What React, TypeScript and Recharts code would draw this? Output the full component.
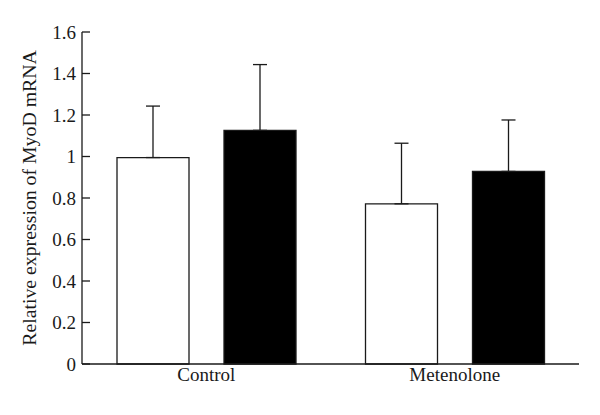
import React from 'react';
import { BarChart, Bar, XAxis, YAxis, ErrorBar } from 'recharts';

const categories = ['Control', 'Metenolone'];
const openMeans = [0.995, 0.772];
const openErr = [0.248, 0.292];
const filledMeans = [1.126, 0.928];
const filledErr = [0.317, 0.248];
const yTicks = [0, 0.2, 0.4, 0.6, 0.8, 1, 1.2, 1.4, 1.6];

const data = categories.map((name, i) => ({
  name,
  open: openMeans[i],
  openErr: [0, openErr[i]],
  filled: filledMeans[i],
  filledErr: [0, filledErr[i]],
}));

const ink = '#1a1a1a';

const css = `
  body { margin: 0; }
  .myod .recharts-text {
    font-family: "Liberation Serif", "Times New Roman", serif;
    font-size: 19px;
    fill: ${ink};
  }
  .myod .recharts-label {
    font-size: 19.8px;
  }
`;

const App: React.FC = () => {
  return (
    <div className="myod" style={{ width: 600, height: 415, background: '#fff' }}>
      <style>{css}</style>
      <BarChart
        width={600}
        height={415}
        data={data}
        margin={{ top: 32, right: 21, left: 0, bottom: 21 }}
        barSize={72}
        barGap={35}
      >
        <XAxis
          dataKey="name"
          tickLine={false}
          tickSize={0}
          tickMargin={4}
          height={30}
          axisLine={{ stroke: ink, strokeWidth: 1.3 }}
          tick={{ fill: ink, fontSize: 19 }}
        />
        <YAxis
          width={82}
          domain={[0, 1.6]}
          ticks={yTicks}
          tickSize={-8}
          tickMargin={14}
          axisLine={{ stroke: ink, strokeWidth: 1.3 }}
          tickLine={{ stroke: ink, strokeWidth: 1.3 }}
          tick={{ fill: ink, fontSize: 19 }}
          label={{
            value: 'Relative expression of MyoD mRNA',
            angle: -90,
            position: 'insideLeft',
            offset: 29,
            style: { textAnchor: 'middle' },
          }}
        />
        <Bar dataKey="open" fill="#fff" stroke={ink} strokeWidth={1.3} isAnimationActive={false}>
          <ErrorBar dataKey="openErr" direction="y" width={7} stroke={ink} strokeWidth={1.3} />
        </Bar>
        <Bar dataKey="filled" fill="#000" stroke={ink} strokeWidth={1.3} isAnimationActive={false}>
          <ErrorBar dataKey="filledErr" direction="y" width={7} stroke={ink} strokeWidth={1.3} />
        </Bar>
      </BarChart>
    </div>
  );
};

export default App;
